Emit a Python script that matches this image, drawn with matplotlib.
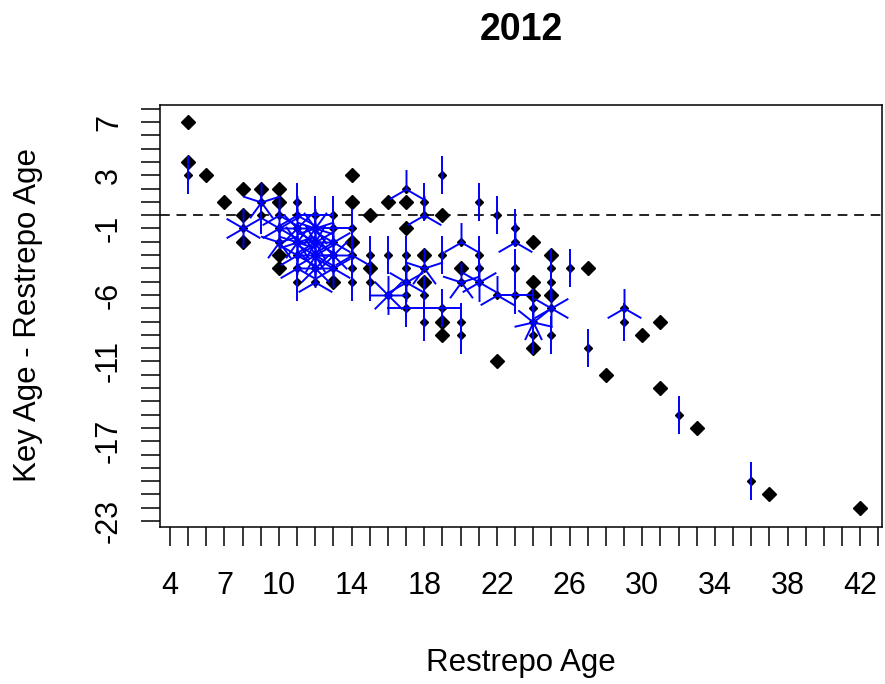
import matplotlib
matplotlib.use("Agg")
import matplotlib.pyplot as plt
import numpy as np
from matplotlib.path import Path

plt.rcParams['font.family'] = ['Liberation Sans', 'DejaVu Sans']

# sunflower data: Restrepo age, key age - Restrepo age, number of fish at that point
restrepo_age = [5, 5, 5, 6, 7,
                8, 8, 8, 8,
                9, 9, 9,
                10, 10, 10, 10, 10, 10, 10,
                11, 11, 11, 11, 11, 11, 11,
                12, 12, 12, 12, 12, 12,
                13, 13, 13, 13, 13, 13,
                14, 14, 14, 14, 14, 14, 14,
                15, 15, 15, 15,
                16, 16, 16,
                17, 17, 17, 17, 17, 17, 17, 17,
                18, 18, 18, 18, 18, 18, 18,
                19, 19, 19, 19, 19, 19,
                20, 20, 20, 20, 20,
                21, 21, 21, 21,
                22, 22, 22,
                23, 23, 23, 23,
                24, 24, 24, 24, 24, 24, 24,
                25, 25, 25, 25, 25, 25,
                26, 27, 27, 28, 29, 29, 30, 31, 31, 32, 33, 36, 37, 42]
age_diff = [7, 4, 3, 3, 1,
            2, 0, -1, -2,
            2, 1, 0,
            2, 1, 0, -1, -2, -3, -4,
            1, 0, -1, -2, -3, -4, -5,
            0, -1, -2, -3, -4, -5,
            0, -1, -2, -3, -4, -5,
            3, 1, -1, -2, -3, -4, -5,
            0, -3, -4, -5,
            1, -3, -6,
            2, 1, -1, -3, -4, -5, -6, -7,
            1, 0, -3, -4, -5, -6, -8,
            3, 0, -3, -7, -8, -9,
            -2, -4, -5, -8, -9,
            1, -3, -4, -5,
            0, -6, -11,
            -1, -2, -4, -6,
            -2, -5, -6, -7, -8, -9, -10,
            -3, -4, -5, -6, -7, -9,
            -4, -4, -10, -12, -7, -8, -9, -8, -13, -15, -16, -20, -21, -22]
counts = [1, 1, 2, 1, 1,
          1, 1, 6, 1,
          1, 5, 2,
          1, 1, 3, 6, 5, 1, 1,
          2, 3, 8, 10, 6, 3, 2,
          4, 10, 12, 12, 8, 3,
          2, 4, 6, 8, 6, 1,
          1, 1, 2, 1, 3, 2, 2,
          1, 2, 1, 2,
          1, 2, 8,
          3, 1, 1, 2, 2, 6, 2, 4,
          2, 3, 1, 5, 1, 2, 2,
          2, 1, 2, 4, 1, 1,
          3, 1, 5, 2, 2,
          2, 2, 2, 6,
          2, 3, 1,
          2, 3, 2, 4,
          1, 1, 1, 2, 7, 2, 1,
          1, 2, 2, 1, 6, 2,
          2, 1, 2, 1, 3, 2, 1, 1, 1, 2, 1, 2, 1, 1]

x_labels = [4, 7, 10, 14, 18, 22, 26, 30, 34, 38, 42]
y_labels = [-23, -17, -11, -6, -1, 3, 7]


def petal_marker(n):
    # n petals like R sunflowerplot: first petal straight up, going clockwise
    verts, codes = [], []
    for k in range(1, n + 1):
        a = 2 * np.pi * k / n
        verts += [(0, 0), (np.sin(a), np.cos(a))]
        codes += [Path.MOVETO, Path.LINETO]
    # anchor so the marker is scaled by unit petal length
    verts += [(0, 1), (0, -1), (1, 0), (-1, 0)]
    codes += [Path.MOVETO, Path.MOVETO, Path.MOVETO, Path.MOVETO]
    return Path(verts, codes)


x = np.array(restrepo_age)
y = np.array(age_diff)
n = np.array(counts)

fig = plt.figure(figsize=(8.85, 6.84), dpi=100)
ax = fig.add_axes([0.1808, 0.2295, 0.8158, 0.6170])

ax.axhline(0, color='#222222', lw=1.4, ls=(0, (5, 3.5)), zorder=1)

single = n == 1
ax.plot(x[single], y[single], ls='none', marker='D', ms=7.2,
        color='black', zorder=3)
ax.plot(x[~single], y[~single], ls='none', marker='D', ms=4,
        color='black', zorder=3)
for k in sorted(set(n[~single])):
    sel = n == k
    ax.plot(x[sel], y[sel], ls='none', marker=petal_marker(int(k)), ms=28,
            markeredgecolor='blue', markerfacecolor='none',
            markeredgewidth=1.4, zorder=4)

ax.set_xlim(3.45, 43.2)
ax.set_ylim(-23.45, 8.28)

ax.set_xticks(range(4, 44))
ax.set_xticklabels([str(v) if v in x_labels else '' for v in range(4, 44)])
ax.set_yticks(range(-23, 9))
ax.set_yticklabels([str(v) if v in y_labels else '' for v in range(-23, 9)],
                   rotation=90, va='center')
ax.tick_params(direction='out', length=14, width=1.1, labelsize=22,
               colors='black')
ax.tick_params(axis='x', pad=18)
ax.tick_params(axis='y', pad=12)

for s in ax.spines.values():
    s.set_linewidth(1.1)

fig.text(0.5887, 0.956, '2012', ha='center', va='center',
         fontsize=27, fontweight='bold')
fig.text(0.5887, 0.031, 'Restrepo Age', ha='center', va='center', fontsize=22.5)
fig.text(0.032, 0.5395, 'Key Age - Restrepo Age', ha='center', va='center',
         rotation=90, fontsize=22.5)

fig.savefig('out.png', dpi=100)
